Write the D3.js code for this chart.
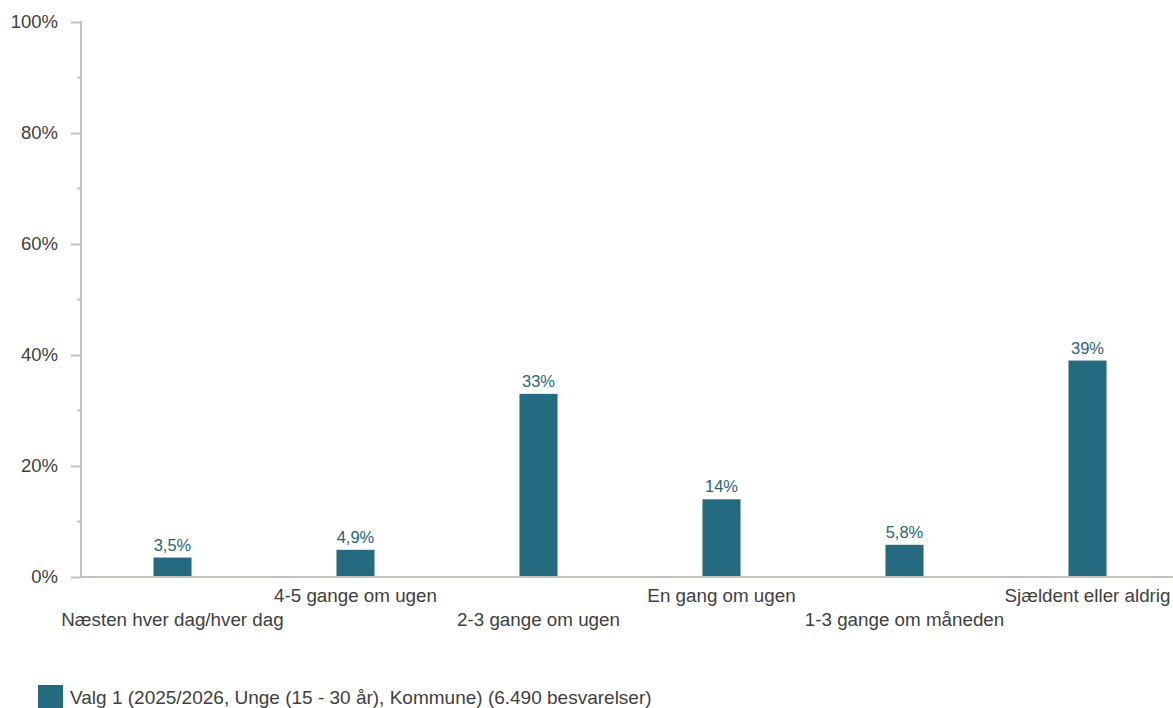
<!DOCTYPE html>
<html><head><meta charset="utf-8">
<script src="https://cdn.jsdelivr.net/npm/d3@7"></script>
<style>body{margin:0;background:#fff;}svg{display:block;font-family:"Liberation Sans",Arial,sans-serif;}</style>
</head><body>
<svg id="c" width="1173" height="708"></svg>
<script>
const categories = ["Næsten hver dag/hver dag","4-5 gange om ugen","2-3 gange om ugen","En gang om ugen","1-3 gange om måneden","Sjældent eller aldrig"];
const values = [3.5, 4.9, 33, 14, 5.8, 39];
const valueLabels = ["3,5%","4,9%","33%","14%","5,8%","39%"];
const yTicks = [0,20,40,60,80,100];
const yMinorTicks = [10,30,50,70,90];
const seriesName = "Valg 1 (2025/2026, Unge (15 - 30 år), Kommune) (6.490 besvarelser)";

const svg = d3.select("#c");
const axisColor = "#c8c2bd", barColor = "#266a80", textColor = "#404040";
const x = d3.scaleBand().domain(categories).range([81, 1179]).paddingInner(0.792).paddingOuter(0.396);
const y = d3.scaleLinear().domain([0,100]).range([577, 22]);

// y axis
const yAxis = svg.append("g").attr("transform","translate(81,0)")
  .call(d3.axisLeft(y).tickValues(yTicks).tickSize(10).tickPadding(13).tickFormat(d=>d+"%"));
yAxis.select(".domain").remove();
yAxis.selectAll(".tick line").attr("stroke",axisColor).attr("stroke-width",2);
yAxis.selectAll(".tick text").attr("font-size",18.5).attr("fill",textColor).attr("font-family","Liberation Sans, Arial, sans-serif");
svg.append("g").selectAll("line").data(yMinorTicks).join("line")
  .attr("x1",77).attr("x2",81).attr("y1",d=>y(d)).attr("y2",d=>y(d)).attr("stroke",axisColor).attr("stroke-width",2);
svg.append("line").attr("x1",81).attr("x2",81).attr("y1",y(100)-1).attr("y2",y(0)+1).attr("stroke",axisColor).attr("stroke-width",2);

// bars
svg.append("g").selectAll("rect").data(values).join("rect")
  .attr("x",(d,i)=>x(categories[i])).attr("width",x.bandwidth())
  .attr("y",d=>y(d)).attr("height",d=>y(0)-y(d)).attr("fill",barColor);
svg.append("g").selectAll("text").data(values).join("text")
  .attr("x",(d,i)=>x(categories[i])+x.bandwidth()/2).attr("y",d=>y(d)-7)
  .attr("text-anchor","middle").attr("font-size",16.5).attr("fill","#2b6478").text((d,i)=>valueLabels[i]);

// x axis line
svg.append("line").attr("x1",80).attr("x2",1173).attr("y1",y(0)).attr("y2",y(0)).attr("stroke",axisColor).attr("stroke-width",2);
svg.append("g").selectAll("text").data(categories).join("text")
  .attr("x",d=>x(d)+x.bandwidth()/2).attr("y",(d,i)=>i%2===0?626:602)
  .attr("text-anchor","middle").attr("font-size",18.8).attr("fill",textColor).text(d=>d);

// legend
svg.append("rect").attr("x",38).attr("y",685).attr("width",25).attr("height",23).attr("fill",barColor);
svg.append("text").attr("x",70).attr("y",704).attr("font-size",19).attr("fill",textColor).text(seriesName);
</script>
</body></html>
